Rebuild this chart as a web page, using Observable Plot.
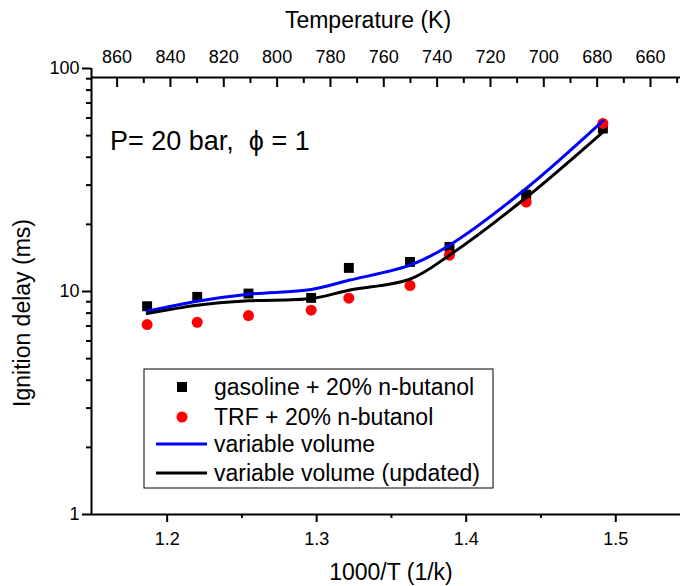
<!DOCTYPE html>
<html>
<head>
<meta charset="utf-8">
<script src="https://cdn.jsdelivr.net/npm/d3@7"></script>
<script src="https://cdn.jsdelivr.net/npm/@observablehq/plot@0.6"></script>
<style>
  html, body { margin: 0; padding: 0; background: #fff; }
  #chart { width: 680px; height: 586px; }
</style>
</head>
<body>
<div id="chart"></div>
<script>
// ---- data (1000/T in 1/K, ignition delay in ms) ----
const invT = [1.1866, 1.2201, 1.2544, 1.2963, 1.3215, 1.3624, 1.3888, 1.4401, 1.4914];
const gasoline = [8.59, 9.46, 9.79, 9.36, 12.76, 13.57, 15.85, 27.2, 53.8];
const trf = [7.11, 7.28, 7.80, 8.25, 9.33, 10.64, 14.55, 25.2, 56.7];
const varVolume = [8.16, 9.05, 9.72, 10.21, 11.23, 13.12, 16.13, 28.97, 58.2];
const varVolumeUpdated = [7.97, 8.68, 9.08, 9.30, 10.13, 11.36, 14.55, 26.4, 51.9];

const xMajor = [1.2, 1.3, 1.4, 1.5];
const xMinor = [1.25, 1.35, 1.45];
const yMajor = [1, 10, 100];
const yMinor = [2, 3, 4, 5, 6, 7, 8, 9, 20, 30, 40, 50, 60, 70, 80, 90];
const tMajor = [860, 840, 820, 800, 780, 760, 740, 720, 700, 680, 660];
const tMinor = [850, 830, 810, 790, 770, 750, 730, 710, 690, 670, 650];

const legendLabels = ["gasoline + 20% n-butanol", "TRF + 20% n-butanol", "variable volume", "variable volume (updated)"];
const annotation = "P= 20 bar,  \u03D5 = 1";

// ---- scales setup ----
const xDomain = [1.1494, 1.5433];
const tDomain = [869.6, 648.75];           // top axis: linear in temperature
const t2x = d3.scaleLinear().domain(tDomain).range(xDomain);

const pts = (ys) => invT.map((x, i) => ({x, y: ys[i]}));

const FONT = "'Liberation Sans', Arial, sans-serif";
const BLUE = "#0000ff";
const RED = "#ff0000";

const chart = Plot.plot({
  width: 680,
  height: 586,
  marginLeft: 91,
  marginRight: 0,
  marginTop: 68,
  marginBottom: 72,
  style: {fontFamily: FONT, fontSize: "18px", color: "black", background: "white"},
  x: {domain: xDomain},
  y: {type: "log", domain: [1, 100]},
  marks: [
    // axis lines
    Plot.ruleY([1], {stroke: "black", strokeWidth: 2}),
    Plot.ruleX([xDomain[0]], {stroke: "black", strokeWidth: 2}),
    Plot.ruleY([100], {stroke: "black", strokeWidth: 2, dy: 9}),
    // bottom axis
    Plot.axisX({anchor: "bottom", ticks: xMajor, tickSize: 8, tickPadding: 10, strokeWidth: 2,
      tickFormat: d3.format(".1f"), label: null}),
    Plot.axisX({anchor: "bottom", ticks: xMinor, tickSize: 4, strokeWidth: 2, tickFormat: () => "", label: null}),
    // left axis
    Plot.axisY({anchor: "left", ticks: yMajor, tickSize: 9, tickPadding: 3, strokeWidth: 2,
      tickFormat: d => String(d), label: null}),
    Plot.axisY({anchor: "left", ticks: yMinor, tickSize: 5, strokeWidth: 2, tickFormat: () => "", label: null}),
    // top axis (temperature)
    Plot.axisX({anchor: "top", ticks: tMajor.map(t2x), tickSize: 9, dy: 18, strokeWidth: 2,
      tickFormat: () => "", label: null}),
    Plot.axisX({anchor: "top", ticks: tMinor.map(t2x), tickSize: 5, dy: 14, strokeWidth: 2,
      tickFormat: () => "", label: null}),
    Plot.axisX({anchor: "top", ticks: tMajor.map(t2x), tickSize: 0, tickPadding: 6,
      tickFormat: x => String(Math.round(t2x.invert(x))), label: null}),
    // data
    Plot.dot(pts(gasoline), {x: "x", y: "y", symbol: "square", r: 5.6, fill: "black", stroke: "none"}),
    Plot.dot(pts(trf), {x: "x", y: "y", symbol: "circle", r: 5.5, fill: RED, stroke: "none"}),
    Plot.line(pts(varVolume), {x: "x", y: "y", stroke: BLUE, strokeWidth: 3, curve: "catmull-rom"}),
    Plot.line(pts(varVolumeUpdated), {x: "x", y: "y", stroke: "black", strokeWidth: 3, curve: "catmull-rom"})
  ]
});

const svg = d3.select(chart);

// titles
svg.append("text").attr("x", 368).attr("y", 28).attr("text-anchor", "middle")
  .attr("font-family", FONT).attr("font-size", 23).attr("fill", "black").text("Temperature (K)");
svg.append("text").attr("x", 391).attr("y", 580).attr("text-anchor", "middle")
  .attr("font-family", FONT).attr("font-size", 23).attr("fill", "black").text("1000/T (1/k)");
svg.append("text").attr("transform", "translate(30,313) rotate(-90)").attr("text-anchor", "middle")
  .attr("font-family", FONT).attr("font-size", 23).attr("fill", "black").text("Ignition delay (ms)");

// annotation
svg.append("text").attr("x", 110).attr("y", 150).attr("text-anchor", "start")
  .attr("font-family", FONT).attr("font-size", 27).attr("fill", "black").text(annotation);

// legend
const lg = svg.append("g").attr("font-family", FONT).attr("font-size", 23).attr("text-anchor", "start");
lg.append("rect").attr("x", 144).attr("y", 369).attr("width", 349).attr("height", 119)
  .attr("fill", "white").attr("stroke", "black").attr("stroke-width", 1);
const rowY = [387, 417, 444, 473];
lg.append("rect").attr("x", 182 - 5).attr("y", rowY[0] - 5).attr("width", 10).attr("height", 10).attr("fill", "black");
lg.append("circle").attr("cx", 182).attr("cy", rowY[1]).attr("r", 5.5).attr("fill", RED);
lg.append("line").attr("x1", 156).attr("x2", 207).attr("y1", rowY[2]).attr("y2", rowY[2]).attr("stroke", BLUE).attr("stroke-width", 3);
lg.append("line").attr("x1", 156).attr("x2", 207).attr("y1", rowY[3]).attr("y2", rowY[3]).attr("stroke", "black").attr("stroke-width", 3);
legendLabels.forEach((t, i) => {
  lg.append("text").attr("x", 214).attr("y", rowY[i]).attr("dy", "0.35em").attr("fill", "black").text(t);
});

document.getElementById("chart").appendChild(chart);
</script>
</body>
</html>
